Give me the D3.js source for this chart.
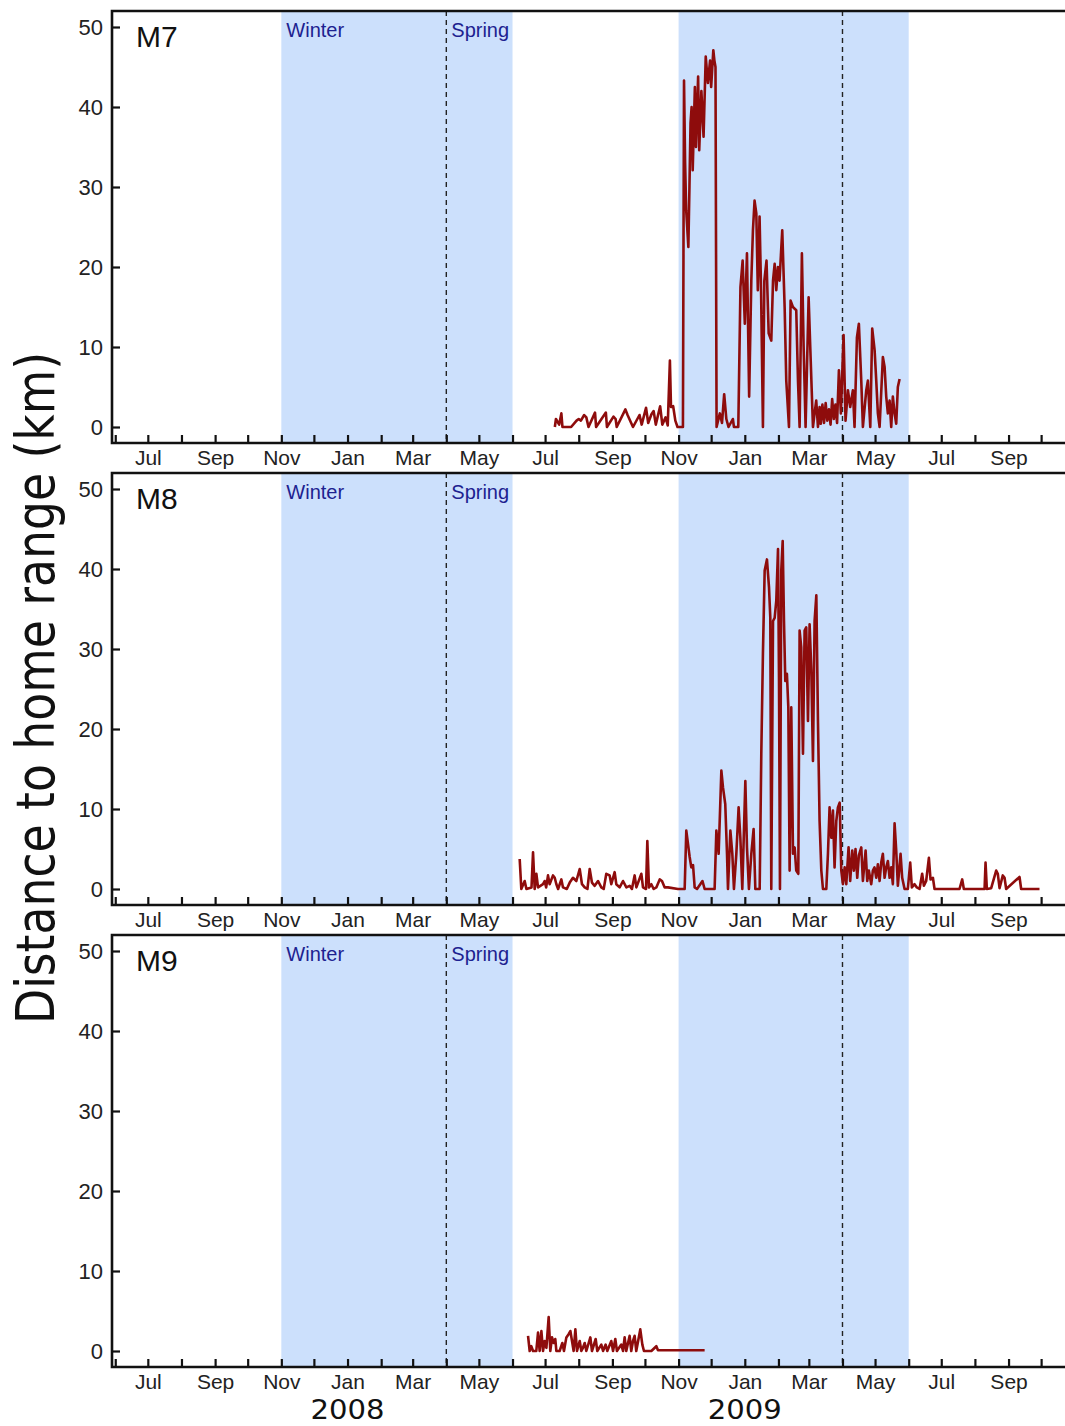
<!DOCTYPE html>
<html>
<head>
<meta charset="utf-8">
<script src="https://cdn.jsdelivr.net/npm/d3@7"></script>
<style>
  html, body { margin: 0; padding: 0; background: #fff; }
  svg { display: block; }
</style>
</head>
<body>
<div id="chart"></div>
<script>
// day offsets are counted from 2008-07-01, values in km
const trackStart = '2008-07-01';

const m7Track = [
  [9,0],[10,1.0],[13,0.3],[15,1.7],[16,0],[24,0],[29,0.8],[31,1.0],[33,0.8],[36,1.5],[38,1.2],[40,0],
  [46,1.8],[47,0],[56,1.8],[57,0],[63,1.3],[65,1.0],[66,0],[74,2.2],[76,1.5],[79,0.6],[81,0],[87,1.5],
  [89,0.3],[93,2.4],[95,0.5],[98,1.6],[100,2.0],[102,0.3],[106,2.6],[108,0.3],[111,1.2],[113,0.2],
  [115,8.3],[116,2.5],[118,2.6],[120,0.8],[122,0],[127,0],[128,43.3],[129,33],[130,27.1],[132,22.5],
  [133,30],[134,38],[135,40.0],[136,32.1],[138,42.5],[139,35],[141,43.8],[142,34.6],[144,42],[146,36.3],
  [148,46.3],[150,43],[152,45.8],[153,42.5],[155,47.1],[156,45.8],[157,45],[158,0],[161,1.7],[163,0.5],
  [165,4.1],[167,1.0],[169,0],[173,1.0],[174,0],[178,0],[180,17.5],[182,20.8],[184,12.9],[186,21.7],
  [188,3.8],[190,18.3],[191.5,24.6],[193,28.3],[194.6,26.7],[196,17.1],[197.6,26.3],[199,17],[200.7,0],
  [202,18.3],[204,20.8],[206,11.7],[208.4,10.8],[210,18.3],[211.5,20.4],[213,17.1],[214.5,20],[216,18.3],
  [218.5,24.6],[220.7,15],[222.2,5.8],[224.7,0],[226.2,15.8],[228.3,15],[231.4,14.6],[233,5.8],[234.5,0],
  [236.6,21.7],[238.2,10],[240,0],[242.8,16.2],[244.3,10],[246.8,0],[248.3,1.7],[249.8,3.3],[251.4,0],
  [252.9,2.5],[254,0.4],[255.5,2.8],[257,0.5],[258.5,3.0],[260,0.8],[261.5,2.2],[263,0.3],[264.5,3.5],
  [266,1.0],[267.5,2.8],[269,0.5],[270.7,7.1],[272.5,1.7],[275,11.5],[276.8,0.8],[279,4.6],[281.1,2.5],
  [283.6,4.6],[285.1,0],[287.3,11.2],[289.1,12.9],[291.3,5.8],[292.8,0],[295.9,4.6],[297.4,5.8],[299.6,0],
  [301.4,12.3],[303.6,9.6],[305.1,5.8],[306.6,1.7],[308.2,0],[311.2,8.75],[312.8,7.5],[314.3,3.8],
  [315.8,1.7],[317.4,3.3],[318.9,0],[320.4,3.8],[322,1.7],[323.5,0.4],[325,5.0],[326.6,6.0]
];

const m8Track = [
  [-23.4,3.75],[-21.9,0],[-18.8,1.0],[-17.2,0],[-12.5,0.2],[-11.1,4.6],[-9.6,0],[-8,1.9],[-6.5,0.2],
  [-1.9,0.6],[-0.4,1.0],[1,0.2],[2.7,1.7],[4.2,0.6],[7.3,1.7],[8.9,1.4],[10.4,0.6],[12,0],[15,1.2],
  [16.5,0.2],[20,0],[22.7,0.8],[25.7,1.4],[28.8,1.0],[31.9,2.5],[34,0.6],[36.5,0.2],[39,0],[41.1,2.5],
  [43.2,0.8],[45.7,0.4],[48.8,1.0],[51.8,0.2],[54,0],[56.4,1.9],[59.5,1.7],[61,0.6],[64.1,2.1],[65.6,0.6],
  [68.7,0.2],[71.8,1.0],[74.9,0.2],[77.9,0.4],[80,0],[82.5,1.7],[84.1,0.2],[88.7,1.9],[90.2,0.2],[93,0],
  [94.2,6.0],[95.7,0.2],[97.9,0.6],[100,0],[102.5,0.2],[105.6,1.2],[107.7,1.0],[110.2,0.2],[113.2,0.2],
  [122.4,0],[128.6,0],[130.1,7.3],[131.7,5.6],[133.2,4],[134.7,2.7],[136.3,3.0],[137.8,0.2],[140,0],
  [145,1.0],[147,0],[156.2,0],[157.8,7.3],[159.9,4.4],[162.4,14.8],[163.9,12.7],[166,10.6],[167.6,4.4],
  [168.5,0],[170.7,7.3],[172.5,4.4],[174,0],[176.2,4.4],[178.3,10.2],[179.9,6.4],[181.7,0],[184.5,13.5],
  [186,5.2],[187.8,0],[190,4.4],[192.1,7.5],[193.7,0],[197.7,0],[199.2,16.9],[200.7,29.4],[202.3,39.8],
  [204.4,41.2],[206.3,37.7],[207.5,33.9],[208.4,0],[210,33.5],[211.5,33.9],[213,36.0],[214.6,42.5],
  [215.5,26.4],[216.4,0],[217.6,39.8],[218.9,43.5],[220.1,33.5],[221.3,26.0],[222.8,26.9],[224.1,22.7],
  [225.3,2.3],[226.8,22.7],[228.4,4.4],[229.9,5.2],[231.4,2.3],[233.3,1.9],[234.5,32.3],[236,30.2],
  [237.6,16.9],[239.1,32.3],[240.6,32.7],[242.2,21.0],[243.7,33.1],[245.3,27.3],[246.8,16.0],[248.3,33.5],
  [249.9,36.7],[251.4,21.0],[252.9,8.5],[254.5,2.3],[256,0],[259.1,0],[260.6,4.4],[262.1,10.2],[263.7,6.4],
  [265.2,9.8],[266.7,2.7],[268.3,8.5],[269.8,10.2],[271.4,10.8],[272.9,2.3],[274.4,0.6],[276,2.7],
  [277.5,0.6],[279.6,5.2],[281.1,1.0],[283,4.8],[284.5,2.3],[286,5.0],[287.6,1.4],[289.1,4.2],[291.3,5.2],
  [292.8,1.0],[295.3,4.8],[296.8,1.0],[298.3,2.3],[300.5,0.6],[302,2.3],[303.5,2.7],[305.1,1.4],
  [306.6,3.1],[308.2,1.0],[309.7,3.3],[311.2,4.4],[312.8,1.4],[314.3,2.7],[315.8,3.5],[317.4,1.4],
  [318.9,2.7],[320.4,0.6],[322,8.2],[323.5,4.8],[325,0.4],[327.5,4.4],[329,1.4],[331.2,0],[334.2,0],
  [336.4,3.3],[337.9,0.2],[340.4,0.6],[342.5,0.2],[345,0],[347.4,1.9],[349,0.4],[351.1,1.0],[353.6,3.9],
  [355.1,1.2],[357.3,1.4],[358.8,0],[381.8,0],[384.3,1.2],[385.8,0],[404.9,0],[405.8,3.3],[407,0],
  [411,0.1],[415.6,2.3],[417.1,1.9],[418.7,0.1],[421.7,1.7],[423.3,1.4],[424.8,0],[437.1,1.5],[438.6,0],
  [455.5,0]
];

const m9Track = [
  [-15.7,1.9],[-14.2,0],[-12.7,0.6],[-11.1,0],[-8.1,0],[-6.5,2.3],[-5,0],[-3.4,2.5],[-1.9,0],[-0.4,1.25],
  [1.2,0.4],[3.3,4.25],[4.8,0],[6.4,1.7],[7.9,1.0],[9.4,1.5],[10.4,0],[13.4,0],[15.9,1.0],[17.4,0],
  [19.6,1.7],[21.7,2.1],[23.3,2.5],[24.8,1.25],[26.3,0],[27.9,2.7],[29.4,0],[31.9,1.25],[33.4,0],
  [34.9,0.4],[36.5,1.0],[38,0],[41.7,1.7],[43.2,0],[46.6,1.5],[48.1,0],[51.8,0.8],[53.4,0],[55.8,0.8],
  [57.3,0],[61,1.25],[62.6,0],[64.7,1.5],[66.2,0],[70.2,0.8],[71.8,0],[73.3,1.7],[74.8,0],[77.9,1.9],
  [79.4,0],[81,1.25],[82.5,1.9],[84,0],[87.7,2.7],[89.6,0.8],[91.1,0],[97.9,0],[102.5,0.6],[104,0.1],
  [108.6,0.1],[123.9,0.1],[147,0.1]
];

const panelNames = ['M7', 'M8', 'M9'];
const panelTracks = [m7Track, m8Track, m9Track];
const yTicks = [0, 10, 20, 30, 40, 50];
const seasonStarts = ['2007-11-01', '2008-11-01'];   // winter begins
const seasonSplits = ['2008-04-01', '2009-04-01'];   // spring begins (dashed line)
const seasonEnds = ['2008-06-01', '2009-06-01'];
const seasonNames = ['Winter', 'Spring'];
const yearLabels = ['2008', '2009'];
const yearDates = ['2008-01-01', '2009-01-01'];

const W = 1065, H = 1426;
const left = 112, right = 1065;
const panelTop = 11, panelH = 432, panelPitch = 462;

const parse = d3.timeParse('%Y-%m-%d');
const base = parse(trackStart);
const toDate = d => new Date(base.getTime() + d * 864e5);

const svg = d3.select('#chart').append('svg')
  .attr('width', W)
  .attr('height', H)
  .style('font-family', '"Liberation Sans", Arial, sans-serif');

const x = d3.scaleTime()
  .domain([parse('2007-05-29'), parse('2009-10-23')])
  .range([left, right]);

const fmtMonth = d3.timeFormat('%b');

panelNames.forEach((name, i) => {
  const top = panelTop + i * panelPitch;
  const bottom = top + panelH;
  const y = d3.scaleLinear().domain([-2, 52]).range([bottom, top]);
  const g = svg.append('g');

  // seasons
  seasonStarts.forEach((s, k) => {
    g.append('rect')
      .attr('x', x(parse(s)))
      .attr('y', top)
      .attr('width', x(parse(seasonEnds[k])) - x(parse(s)))
      .attr('height', panelH)
      .attr('fill', '#cce0fc');
    g.append('line')
      .attr('x1', x(parse(seasonSplits[k])))
      .attr('x2', x(parse(seasonSplits[k])))
      .attr('y1', top)
      .attr('y2', bottom)
      .attr('stroke', '#222')
      .attr('stroke-width', 1.4)
      .attr('stroke-dasharray', '5,4');
  });

  g.append('text')
    .attr('x', x(parse(seasonStarts[0])) + 5)
    .attr('y', top + 26)
    .attr('fill', '#1d2290')
    .attr('font-size', 20)
    .text(seasonNames[0]);
  g.append('text')
    .attr('x', x(parse(seasonSplits[0])) + 5)
    .attr('y', top + 26)
    .attr('fill', '#1d2290')
    .attr('font-size', 20)
    .text(seasonNames[1]);

  // track
  const line = d3.line()
    .x(d => x(toDate(d[0])))
    .y(d => y(d[1]));

  g.append('path')
    .datum(panelTracks[i])
    .attr('fill', 'none')
    .attr('stroke', '#8e0c0c')
    .attr('stroke-width', 2.6)
    .attr('stroke-linejoin', 'round')
    .attr('d', line);

  // axes
  const xAxis = g.append('g')
    .attr('transform', `translate(0,${bottom})`)
    .call(d3.axisBottom(x)
      .ticks(d3.timeMonth.every(1))
      .tickSizeInner(-8)
      .tickSizeOuter(0)
      .tickPadding(7)
      .tickFormat(d => d.getMonth() % 2 === 0 ? fmtMonth(d) : ''));
  xAxis.select('.domain').remove();
  xAxis.selectAll('.tick line').attr('stroke', '#111').attr('stroke-width', 2.2);
  xAxis.selectAll('.tick text').attr('font-size', 21).attr('fill', '#222')
    .style('font-family', '"Liberation Sans", Arial, sans-serif');

  const yAxis = g.append('g')
    .attr('transform', `translate(${left},0)`)
    .call(d3.axisLeft(y)
      .tickValues(yTicks)
      .tickSizeInner(-8)
      .tickSizeOuter(0)
      .tickPadding(9));
  yAxis.select('.domain').remove();
  yAxis.selectAll('.tick line').attr('stroke', '#111').attr('stroke-width', 2.2);
  yAxis.selectAll('.tick text').attr('font-size', 22).attr('fill', '#222')
    .style('font-family', '"Liberation Sans", Arial, sans-serif');

  // frame: top, left, bottom
  g.append('path')
    .attr('d', `M${right},${top}H${left}V${bottom}H${right}`)
    .attr('fill', 'none')
    .attr('stroke', '#111')
    .attr('stroke-width', 2.6);

  g.append('text')
    .attr('x', 136)
    .attr('y', top + 36)
    .attr('font-size', 30)
    .attr('fill', '#111')
    .text(name);
});

// year labels under the last panel
const lastBottom = panelTop + 2 * panelPitch + panelH;
yearLabels.forEach((t, k) => {
  svg.append('text')
    .attr('x', x(parse(yearDates[k])))
    .attr('y', lastBottom + 52)
    .attr('text-anchor', 'middle')
    .attr('font-size', 27)
    .attr('fill', '#111')
    .attr('textLength', 74)
    .attr('lengthAdjust', 'spacingAndGlyphs')
    .style('font-family', '"Liberation Sans Narrow", "DejaVu Sans Condensed", sans-serif')
    .text(t);
});

svg.append('text')
  .attr('transform', 'translate(54,688) rotate(-90)')
  .attr('text-anchor', 'middle')
  .attr('font-size', 54)
  .attr('fill', '#111')
  .attr('textLength', 672)
  .attr('lengthAdjust', 'spacingAndGlyphs')
  .style('font-family', '"Liberation Sans Narrow", "DejaVu Sans Condensed", sans-serif')
  .text('Distance to home range (km)');
</script>
</body>
</html>
